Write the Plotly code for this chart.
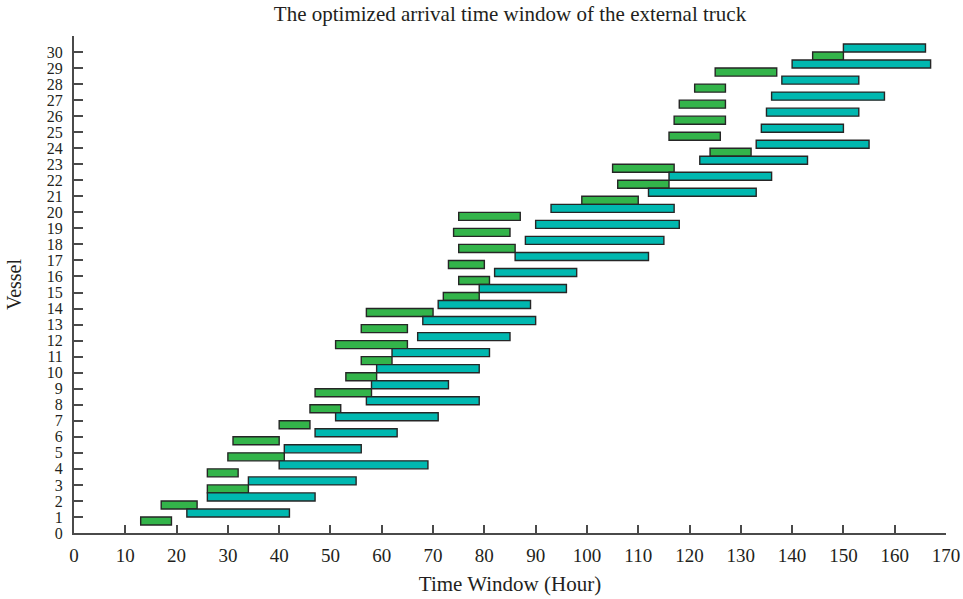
import plotly.graph_objects as go

# Vessel index and the two time windows (hours) per vessel
vessels = list(range(1, 31))

truck_start = [13, 17, 26, 26, 30, 31, 40, 46, 47, 53, 56, 51, 56, 57, 72,
               75, 73, 75, 74, 75, 99, 106, 105, 124, 116, 117, 118, 121, 125, 144]
truck_end = [19, 24, 34, 32, 41, 40, 46, 52, 58, 59, 62, 65, 65, 70, 79,
             81, 80, 86, 85, 87, 110, 116, 117, 132, 126, 127, 127, 127, 137, 150]

vessel_start = [22, 26, 34, 40, 41, 47, 51, 57, 58, 59, 62, 67, 68, 71, 79,
                82, 86, 88, 90, 93, 112, 116, 122, 133, 134, 135, 136, 138, 140, 150]
vessel_end = [42, 47, 55, 69, 56, 63, 71, 79, 73, 79, 81, 85, 90, 89, 96,
              98, 112, 115, 118, 117, 133, 136, 143, 155, 150, 153, 158, 153, 167, 166]

x_ticks = list(range(0, 171, 10))
y_ticks = list(range(0, 31))

GREEN = "#33b44a"
TEAL = "#00b8b0"
EDGE = "#262626"
AXIS = "#4a4a4a"
TEXT = "#231f20"
FONT = "Liberation Serif"

fig = go.Figure()

# truck windows sit just below each vessel's grid line
fig.add_trace(go.Bar(
    y=[v - 0.25 for v in vessels],
    x=[e - s for s, e in zip(truck_start, truck_end)],
    base=truck_start,
    width=0.5,
    orientation="h",
    marker=dict(color=GREEN, line=dict(color=EDGE, width=1.4)),
    name="Truck arrival window",
    showlegend=False,
))

# vessel windows sit just above each vessel's grid line
fig.add_trace(go.Bar(
    y=[v + 0.25 for v in vessels],
    x=[e - s for s, e in zip(vessel_start, vessel_end)],
    base=vessel_start,
    width=0.5,
    orientation="h",
    marker=dict(color=TEAL, line=dict(color=EDGE, width=1.4)),
    name="Vessel window",
    showlegend=False,
))

fig.update_layout(
    width=963,
    height=599,
    margin=dict(l=74, r=17, t=36, b=66, autoexpand=False),
    paper_bgcolor="white",
    plot_bgcolor="white",
    barmode="overlay",
    font=dict(family=FONT, size=19, color=TEXT),
    title=dict(
        text="The optimized arrival time window of the external truck",
        xref="paper", x=0.5, xanchor="center", y=0.978, yanchor="middle",
        font=dict(family=FONT, size=21, color=TEXT),
    ),
)

fig.update_xaxes(
    range=[0, 170],
    automargin=False,
    tickmode="array", tickvals=x_ticks, ticktext=[str(t) for t in x_ticks],
    ticks="inside", ticklen=8, tickwidth=1.5, tickcolor=AXIS,
    showline=True, linecolor=AXIS, linewidth=2,
    showgrid=False, zeroline=False,
    ticklabelstandoff=4,
    title=dict(text="Time Window (Hour)", standoff=12,
               font=dict(family=FONT, size=21, color=TEXT)),
    tickfont=dict(family=FONT, size=19, color=TEXT),
)

fig.update_yaxes(
    range=[0, 31],
    automargin=False,
    tickmode="array", tickvals=y_ticks, ticktext=[str(t) for t in y_ticks],
    ticks="inside", ticklen=9, tickwidth=1.5, tickcolor=AXIS,
    showline=True, linecolor=AXIS, linewidth=2,
    showgrid=False, zeroline=False,
    ticklabelstandoff=6,
    title=dict(text="Vessel", standoff=20,
               font=dict(family=FONT, size=20, color=TEXT)),
    tickfont=dict(family=FONT, size=16, color=TEXT),
)

fig.write_html("out.html")
